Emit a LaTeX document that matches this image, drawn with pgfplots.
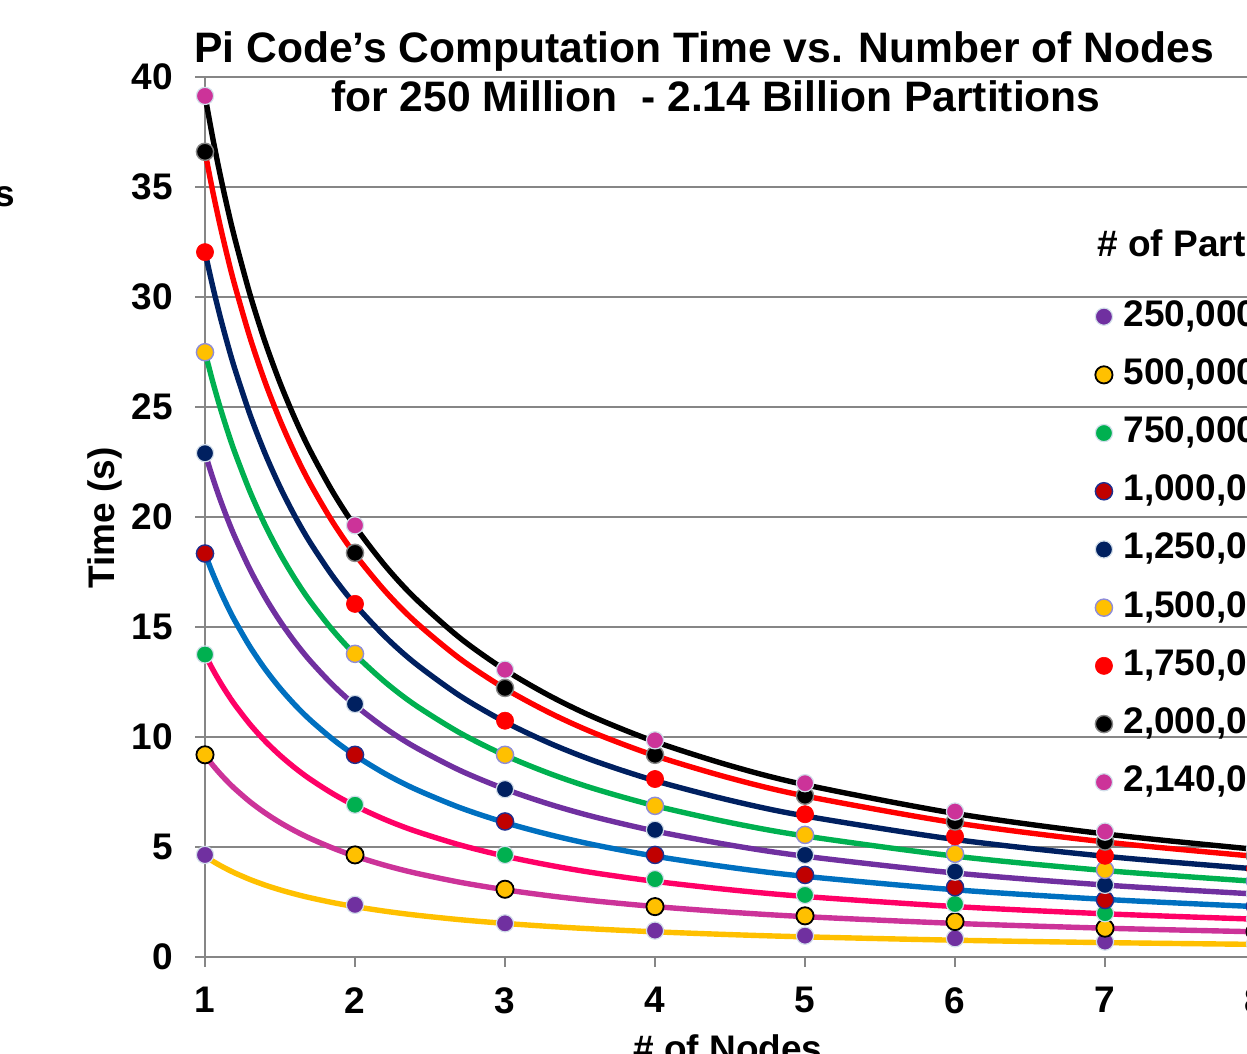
\documentclass[border=0pt]{standalone}
\usepackage{pgfplots}
\pgfplotsset{compat=1.18}
\usepackage{pgfplotstable}
\usepackage{fontspec}
\setmainfont{Liberation Sans}

\definecolor{gridgray}{HTML}{868686}
\definecolor{cPurple}{HTML}{7030A0}
\definecolor{cGold}{HTML}{FFC000}
\definecolor{cGreen}{HTML}{00B050}
\definecolor{cDarkRed}{HTML}{C00000}
\definecolor{cNavy}{HTML}{002060}
\definecolor{cRed}{HTML}{FF0000}
\definecolor{cMagenta}{HTML}{CC3399}
\definecolor{cPink}{HTML}{FF0066}
\definecolor{cBlue}{HTML}{0070C0}
\definecolor{cLight}{HTML}{D2DEEA}
\definecolor{cLav}{HTML}{8E8CD8}
\definecolor{cDB}{HTML}{1F2F8F}

\newcommand{\bigfont}{\bfseries\fontsize{18.5}{22}\selectfont}
\newcommand{\titlefont}{\bfseries\fontsize{21.3}{25}\selectfont}

% measured points: x = nodes, m1..m9 = partitions 250M ... 2140M
\pgfplotstableread{
x  m1   m2   m3    m4    m5    m6    m7    m8    m9
1  4.64 9.19 13.75 18.34 22.90 27.49 32.04 36.60 39.14
2  2.37 4.64 6.92  9.19  11.50 13.78 16.05 18.37 19.62
3  1.53 3.08 4.64  6.16  7.63  9.19  10.74 12.23 13.06
4  1.20 2.29 3.54  4.64  5.78  6.87  8.09  9.19  9.85
5  0.97 1.87 2.82  3.73  4.64  5.55  6.49  7.33  7.90
6  0.85 1.61 2.41  3.17  3.88  4.69  5.48  6.16  6.61
7  0.70 1.31 1.99  2.59  3.28  3.96  4.60  5.25  5.70
8  0.60 1.15 1.74  2.30  2.88  3.45  4.02  4.60  4.92
}\meas

% trend lines
\pgfplotstableread{
x    t1    t2    t3     t4     t5     t6     t7     t8     t9
1    4.58  9.17  13.75  18.33  22.90  27.50  32.05  36.60  39.15
1.05 4.362 8.733 13.095 17.457 21.81  26.19  30.524 34.857 37.286
1.1  4.164 8.336 12.50  16.664 20.818 25.00  29.136 33.273 35.591
1.15 3.983 7.974 11.957 15.939 19.913 23.913 27.87  31.826 34.043
1.2  3.817 7.642 11.458 15.275 19.083 22.917 26.708 30.50  32.625
1.3  3.523 7.054 10.577 14.10  17.615 21.154 24.654 28.154 30.115
1.4  3.271 6.55  9.821  13.093 16.357 19.643 22.893 26.143 27.964
1.5  3.053 6.113 9.167  12.22  15.267 18.333 21.367 24.40  26.10
1.6  2.863 5.731 8.594  11.456 14.313 17.188 20.031 22.875 24.469
1.7  2.694 5.394 8.088  10.782 13.471 16.176 18.853 21.529 23.029
1.85 2.476 4.957 7.432  9.908  12.378 14.865 17.324 19.784 21.162
2    2.29  4.585 6.875  9.165  11.45  13.75  16.025 18.30  19.575
2.2  2.082 4.168 6.25   8.332  10.409 12.50  14.568 16.636 17.795
2.4  1.908 3.821 5.729  7.638  9.542  11.458 13.354 15.25  16.313
2.7  1.696 3.396 5.093  6.789  8.481  10.185 11.87  13.556 14.50
3    1.527 3.057 4.583  6.11   7.633  9.167  10.683 12.20  13.05
3.3  1.388 2.779 4.167  5.555  6.939  8.333  9.712  11.091 11.864
3.6  1.272 2.547 3.819  5.092  6.361  7.639  8.903  10.167 10.875
4    1.145 2.293 3.438  4.583  5.725  6.875  8.013  9.15   9.788
4.5  1.018 2.038 3.056  4.073  5.089  6.111  7.122  8.133  8.70
5    0.916 1.834 2.75   3.666  4.58   5.50   6.41   7.32   7.83
6    0.763 1.528 2.292  3.055  3.817  4.583  5.342  6.10   6.525
7    0.654 1.31  1.964  2.619  3.271  3.929  4.579  5.229  5.593
8    0.573 1.146 1.719  2.291  2.863  3.438  4.006  4.575  4.894
8.3  0.552 1.105 1.657  2.208  2.759  3.313  3.861  4.41   4.717
}\trend

\begin{document}
\begin{tikzpicture}
\useasboundingbox (0pt,0pt) rectangle (623.5pt,527pt);
\clip (0pt,0pt) rectangle (623.5pt,527pt);
\begin{axis}[
  at={(102.5pt,48.5pt)}, anchor=south west,
  scale only axis, width=540pt, height=440pt,
  xmin=1, xmax=8.2, ymin=0, ymax=40,
  clip=false,
  axis lines*=left,
  axis line style={-, draw=gridgray, line width=1pt},
  xtick={1,...,8}, ytick={0,5,...,40},
  tick align=outside, major tick length=5pt,
  tick style={draw=gridgray, line width=1pt},
  ymajorgrids, major grid style={draw=gridgray, line width=1pt},
  /pgf/number format/assume math mode=true,
  ticklabel style={font=\bigfont},
  yticklabel style={inner sep=0pt, xshift=-11pt},
  xticklabel style={inner sep=0pt, yshift=-10pt},
  legend style={at={(axis description cs:0.824,0.748)}, anchor=north west,
    draw=none, fill=none, font=\bigfont, row sep=11.6pt, column sep=5.5pt,
    inner sep=0pt,
    nodes={inner sep=0pt, text height=13.5pt, text depth=4pt}},
  legend cell align=left,
  every axis plot/.append style={mark size=4.3pt},
]
\addplot[only marks, mark=*, mark options={fill=cPurple, draw=cLight, line width=0.6pt}] table[x=x,y=m1]{\meas};
\addlegendentry{250,000,000}
\addplot[only marks, mark=*, mark options={fill=cGold, draw=black, line width=0.9pt}] table[x=x,y=m2]{\meas};
\addlegendentry{500,000,000}
\addplot[only marks, mark=*, mark options={fill=cGreen, draw=cLight, line width=0.6pt}] table[x=x,y=m3]{\meas};
\addlegendentry{750,000,000}
\addplot[only marks, mark=*, mark options={fill=cDarkRed, draw=cDB, line width=0.7pt}] table[x=x,y=m4]{\meas};
\addlegendentry{1,000,000,000}
\addplot[only marks, mark=*, mark options={fill=cNavy, draw=cLight, line width=0.6pt}] table[x=x,y=m5]{\meas};
\addlegendentry{1,250,000,000}
\addplot[only marks, mark=*, mark options={fill=cGold, draw=cLav, line width=0.7pt}] table[x=x,y=m6]{\meas};
\addlegendentry{1,500,000,000}
\addplot[only marks, mark=*, mark options={fill=cRed, draw=cRed, line width=0.3pt}] table[x=x,y=m7]{\meas};
\addlegendentry{1,750,000,000}
\addplot[only marks, mark=*, mark options={fill=black, draw=gridgray, line width=0.7pt}] table[x=x,y=m8]{\meas};
\addlegendentry{2,000,000,000}
\addplot[only marks, mark=*, mark options={fill=cMagenta, draw=cLight, line width=0.6pt}] table[x=x,y=m9]{\meas};
\addlegendentry{2,140,000,000}

\addplot[forget plot, no marks, smooth, cGold, line width=2.7pt] table[x=x,y=t1]{\trend};
\addplot[forget plot, no marks, smooth, cMagenta, line width=2.7pt] table[x=x,y=t2]{\trend};
\addplot[forget plot, no marks, smooth, cPink, line width=2.7pt] table[x=x,y=t3]{\trend};
\addplot[forget plot, no marks, smooth, cBlue, line width=2.7pt] table[x=x,y=t4]{\trend};
\addplot[forget plot, no marks, smooth, cPurple, line width=2.7pt] table[x=x,y=t5]{\trend};
\addplot[forget plot, no marks, smooth, cGreen, line width=2.7pt] table[x=x,y=t6]{\trend};
\addplot[forget plot, no marks, smooth, cNavy, line width=2.7pt] table[x=x,y=t7]{\trend};
\addplot[forget plot, no marks, smooth, cRed, line width=2.7pt] table[x=x,y=t8]{\trend};
\addplot[forget plot, no marks, smooth, black, line width=2.7pt] table[x=x,y=t9]{\trend};
\end{axis}

\node[anchor=base, inner sep=0pt, font=\titlefont] at (352pt,495.5pt) {Pi Code’s Computation Time vs. Number of Nodes};
\node[anchor=base, inner sep=0pt, font=\titlefont] at (358pt,471pt) {for 250 Million \ - 2.14 Billion Partitions};
\node[rotate=90, inner sep=0pt, font=\bigfont] at (52.5pt,268pt) {Time (s)};
\node[anchor=base, inner sep=0pt, font=\bigfont] at (364pt,-3.7pt) {\# of Nodes};
\node[anchor=base east, inner sep=0pt, font=\bigfont] at (7.5pt,423.5pt) {s};
\node[anchor=base west, inner sep=0pt, font=\bigfont] at (548.5pt,398.5pt) {\# of Partitions};
\end{tikzpicture}
\end{document}
